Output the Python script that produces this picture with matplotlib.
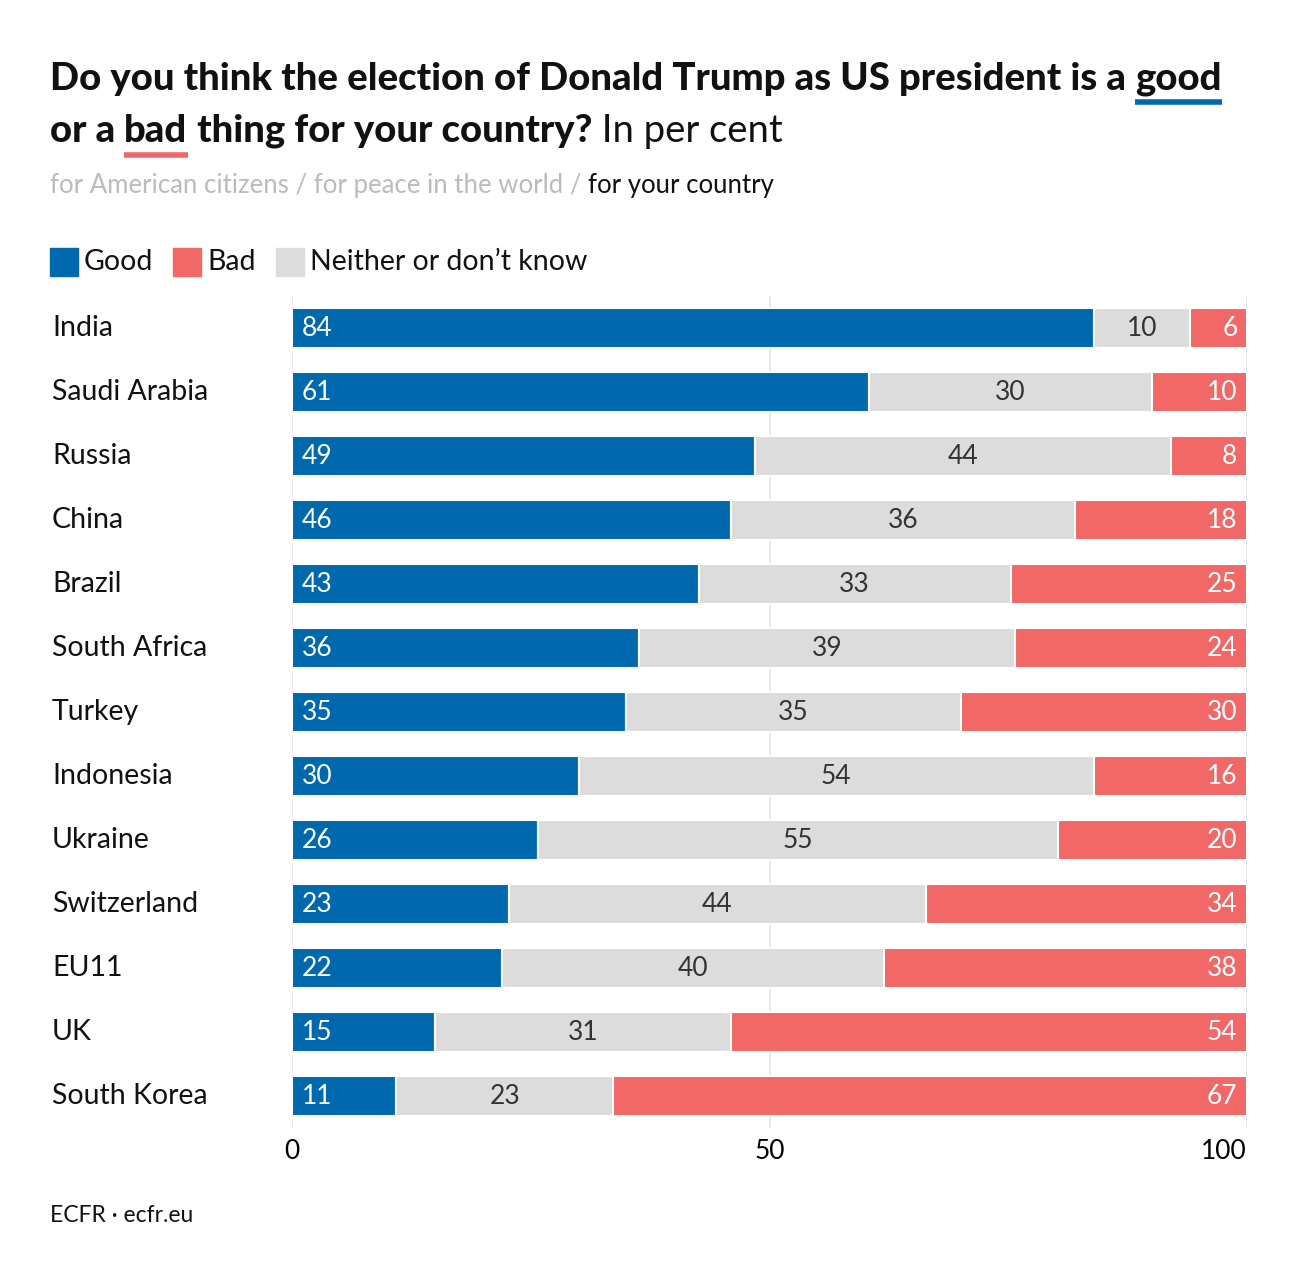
import numpy as np
import matplotlib
matplotlib.use("Agg")
import matplotlib.pyplot as plt
from matplotlib.lines import Line2D
from matplotlib.patches import Rectangle

# data
countries = ["India", "Saudi Arabia", "Russia", "China", "Brazil", "South Africa", "Turkey",
             "Indonesia", "Ukraine", "Switzerland", "EU11", "UK", "South Korea"]
good = [84, 61, 49, 46, 43, 36, 35, 30, 26, 23, 22, 15, 11]
neither = [10, 30, 44, 36, 33, 39, 35, 54, 55, 44, 40, 31, 23]
bad = [6, 10, 8, 18, 25, 24, 30, 16, 20, 34, 38, 54, 67]
ticks = [0, 50, 100]

BLUE = "#0069ae"
RED = "#f26866"
GREY = "#dcdcdc"
FONT = "Lato"

W, H = 1300, 1284
fig = plt.figure(figsize=(13, 12.84), dpi=100)
fig.patch.set_facecolor("white")

ax = fig.add_axes([292 / W, 1 - 1128 / H, (1247 - 292) / W, 832 / H])

g = np.array(good, float)
n = np.array(neither, float)
b = np.array(bad, float)
tot = g + n + b
gs, ns, bs = g / tot * 100, n / tot * 100, b / tot * 100
y = np.arange(len(countries))

for t in ticks:
    ax.axvline(t, color="#e6e6e6", lw=1.2, zorder=0)

h = 0.63
ax.barh(y, gs, height=h, color=BLUE, edgecolor="white", linewidth=1.5, zorder=2)
ax.barh(y, ns, left=gs, height=h, color=GREY, edgecolor="white", linewidth=1.5, zorder=2)
ax.barh(y, bs, left=gs + ns, height=h, color=RED, edgecolor="white", linewidth=1.5, zorder=2)

for i in range(len(countries)):
    ax.text(1.0, y[i], str(good[i]), color="white", fontsize=19, family=FONT,
            va="center", ha="left", zorder=3)
    ax.text(gs[i] + ns[i] / 2, y[i], str(neither[i]), color="#333333", fontsize=19,
            family=FONT, va="center", ha="center", zorder=3)
    ax.text(99.0, y[i], str(bad[i]), color="white", fontsize=19, family=FONT,
            va="center", ha="right", zorder=3)

ax.set_xlim(0, 100)
ax.set_ylim(len(countries) - 0.5, -0.5)
ax.set_xticks(ticks)
ax.set_xticklabels([str(t) for t in ticks], fontsize=19, family=FONT)
ax.get_xticklabels()[-1].set_horizontalalignment("right")
ax.set_yticks([])
ax.tick_params(axis="x", length=0, pad=8)
for s in ax.spines.values():
    s.set_visible(False)

for i, c in enumerate(countries):
    fig.text(52 / W, 1 - (328 + 64 * i) / H, c, fontsize=20.5, family=FONT,
             va="center", ha="left", color="#111111")

renderer = fig.canvas.get_renderer()


def seq(x, yy, parts):
    """place text pieces one after another, return extents"""
    out = []
    for s, kw in parts:
        t = fig.text(x / W, 1 - yy / H, s, va="baseline", ha="left", family=FONT, **kw)
        bb = t.get_window_extent(renderer)
        out.append(bb)
        x = bb.x1
    return out


tk = dict(fontsize=27.5, weight="black", color="#111111")
l1 = seq(50, 90, [("Do you think the election of Donald Trump as US president is a ", tk),
                  ("good", tk)])
l2 = seq(50, 142, [("or a ", tk), ("bad", tk), (" thing for your country?", tk),
                   (" In per cent", dict(fontsize=27.5, weight="normal", color="#111111"))])
for bb, col, yy in [(l1[1], BLUE, 101.5), (l2[1], RED, 154.5)]:
    fig.add_artist(Line2D([bb.x0 / W, bb.x1 / W], [1 - yy / H] * 2, color=col, lw=4,
                          solid_capstyle="butt"))

sk = dict(fontsize=18.5, color="#bbbbbb")
seq(50, 193, [("for American citizens / for peace in the world / ", sk),
              ("for your country", dict(fontsize=18.5, color="#111111"))])

# legend
lx = 50
for lab, col in [("Good", BLUE), ("Bad", RED), ("Neither or don\u2019t know", GREY)]:
    fig.add_artist(Rectangle((lx / W, 1 - 276 / H), 28 / W, 28 / H, color=col,
                             transform=fig.transFigure))
    t = fig.text((lx + 34) / W, 1 - 262 / H, lab, fontsize=20.5, family=FONT,
                 va="center", ha="left", color="#111111")
    lx = t.get_window_extent(renderer).x1 + 20

fig.text(50 / W, 1 - 1216 / H, "ECFR \u00b7 ecfr.eu", fontsize=16.5, family=FONT,
         va="center", ha="left", color="#111111")

fig.savefig("out.png", dpi=100, facecolor="white")
